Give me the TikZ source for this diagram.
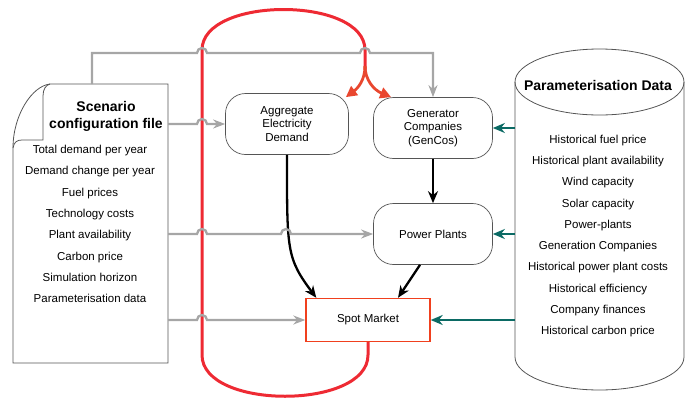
\documentclass[tikz,border=0pt]{standalone}
\usepackage{fontspec}
\setmainfont{Liberation Sans}
\usepackage{tikz}
\usetikzlibrary{calc,arrows.meta}
\definecolor{edge}{HTML}{555555}
\definecolor{feed}{HTML}{A6A6A6}
\definecolor{loopred}{HTML}{EE2A33}
\definecolor{headred}{HTML}{E9472F}
\definecolor{spotred}{HTML}{F0401E}
\definecolor{datateal}{HTML}{0B6A64}
\tikzset{
  module/.style={draw=edge, line width=0.7pt, rounded corners=20pt, align=center,
    minimum width=119pt, minimum height=61pt, font=\fontsize{11.5}{13.5}\selectfont},
  market/.style={draw=spotred, line width=1.4pt, minimum width=124pt, minimum height=43pt,
    font=\fontsize{11.5}{13.5}\selectfont},
  docline/.style={draw=edge, line width=0.8pt},
  title/.style={align=center, font=\fontsize{14}{17}\selectfont\bfseries},
  items/.style={align=center, font=\fontsize{11.5}{21.3}\selectfont},
  feedline/.style={draw=feed, line width=2.3pt, -{Stealth[length=12pt,width=9pt]}},
  loopline/.style={draw=loopred, line width=3pt},
  headline/.style={draw=headred, line width=2.8pt, -{Triangle[length=11pt,width=11pt]}},
  flowline/.style={draw=black, line width=2.3pt, -{Stealth[length=12pt,width=10pt]}},
  dataline/.style={draw=datateal, line width=2.3pt, -{Stealth[length=12pt,width=10pt]}},
}
\begin{document}
\begin{tikzpicture}[x=1pt, y=-1pt]
  \useasboundingbox (0,0) rectangle (689,400);

  \coordinate (docTop) at (92,84);
  \coordinate (docE) at (168,0);
  \coordinate (cylW) at (515,0);

  % scenario file
  \draw[docline] (50,84) -- (168,84) -- (168,363) -- (13,363) -- (13,148)
    .. controls (13,115) and (32,86) .. (50,84);
  \draw[docline] (13,148) .. controls (14,142) and (17,140) .. (22,140) -- (43,140)
    -- (43,96) .. controls (43,89) and (46,85) .. (50,84);
  \node[title] (docTitle) at (106,116) {Scenario\\configuration file};
  \node[items] (docList) at (90,224) {Total demand per year\\Demand change per year\\Fuel prices\\Technology costs\\Plant availability\\Carbon price\\Simulation horizon\\Parameterisation data};

  % parameterisation data
  \draw[docline] (515,82) -- (515,357) arc[start angle=180, end angle=0, x radius=84.5, y radius=33] -- (684,82);
  \draw[docline] (599.5,82) ellipse[x radius=84.5, y radius=33];
  \node[title] (cylTitle) at (598,85) {Parameterisation Data};
  \node[items] (cylList) at (598,236) {Historical fuel price\\Historical plant availability\\Wind capacity\\Solar capacity\\Power-plants\\Generation Companies\\Historical power plant costs\\Historical efficiency\\Company finances\\Historical carbon price};

  \node[module, minimum width=123pt] (agg) at (287,124) {Aggregate\\Electricity\\Demand};
  \node[module] (gen) at (433,128) {Generator\\Companies\\(GenCos)};
  \node[module] (pp) at (433,234) {Power Plants};
  \node[market] (spot) at (368,320) {Spot Market};

  % feedback loop
  \draw[loopline] (365,70) -- (365,50) .. controls (365,-4) and (202,-4) .. (202,50)
    -- (202,355) .. controls (202,410) and (368,410) .. (368,355) -- (spot.south);
  \draw[headline] (365,66) .. controls (365,80) and (358,88) .. ([shift={(-3,4)}]agg.north east);
  \draw[headline] (365,66) .. controls (365,80) and (374,90) .. ([shift={(18,0)}]gen.north west);

  \draw[flowline] (agg.south) .. controls +(0,95) and +(-30,-40) .. ([xshift=11pt]spot.north west);
  \draw[flowline] (gen.south) -- (pp.north);
  \draw[flowline] ([xshift=-13pt]pp.south) -- ([xshift=30pt]spot.north);

  \draw[feedline] (docTop) -- ++(0,-31) -- ++(105,0) arc[start angle=180, end angle=360, radius=5]
    -- ++(153,0) arc[start angle=180, end angle=360, radius=5] -| (gen.north);
  \draw[feedline] (docE |- agg.west) -- ++(29,0) arc[start angle=180, end angle=360, radius=5] -- (agg.west);
  \draw[feedline] (docE |- pp.west) -- ++(29,0) arc[start angle=180, end angle=360, radius=5]
    -- ++(74,0) arc[start angle=180, end angle=360, radius=5] -- (pp.west);
  \draw[feedline] (docE |- spot.west) -- ++(29,0) arc[start angle=180, end angle=360, radius=5] -- (spot.west);

  \draw[dataline] (cylW |- gen.east) -- (gen.east);
  \draw[dataline] (cylW |- pp.east) -- (pp.east);
  \draw[dataline] (cylW |- spot.east) -- (spot.east);
\end{tikzpicture}
\end{document}
